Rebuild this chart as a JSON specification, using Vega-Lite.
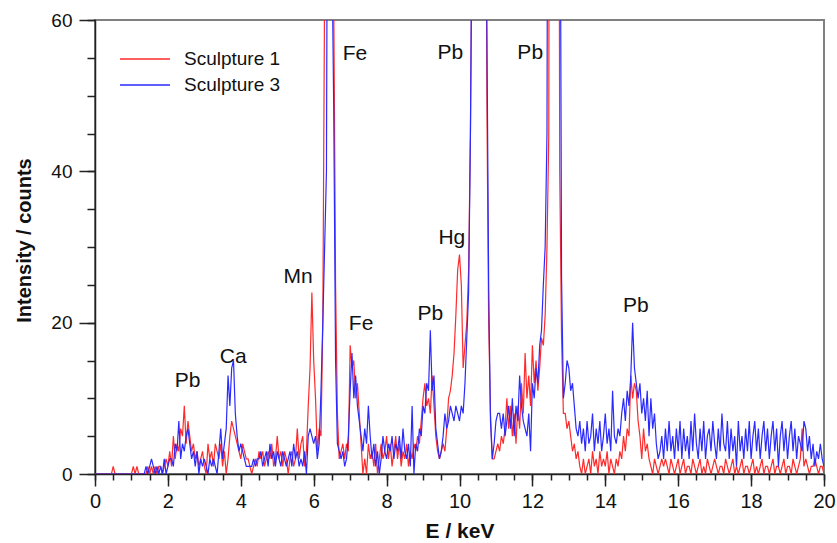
{
"$schema": "https://vega.github.io/schema/vega-lite/v6.json",
"width": 729, "height": 454,
"autosize": {"type": "none"},
"padding": {"left": 95, "top": 20, "right": 13, "bottom": 69},
"background": "white",
"config": {"view": {"stroke": "#808080", "strokeWidth": 2}, "font": "Liberation Sans"},
"data": {"values": [
{"e":0.00,"Sculpture 1":0,"Sculpture 3":0},{"e":0.05,"Sculpture 1":0,"Sculpture 3":0},{"e":0.10,"Sculpture 1":0,"Sculpture 3":0},{"e":0.15,"Sculpture 1":0,"Sculpture 3":0},{"e":0.20,"Sculpture 1":0,"Sculpture 3":0},{"e":0.25,"Sculpture 1":0,"Sculpture 3":0},{"e":0.30,"Sculpture 1":0,"Sculpture 3":0},{"e":0.35,"Sculpture 1":0,"Sculpture 3":0},{"e":0.40,"Sculpture 1":0,"Sculpture 3":0},{"e":0.45,"Sculpture 1":0,"Sculpture 3":0},
{"e":0.50,"Sculpture 1":1,"Sculpture 3":0},{"e":0.55,"Sculpture 1":0,"Sculpture 3":0},{"e":0.60,"Sculpture 1":0,"Sculpture 3":0},{"e":0.65,"Sculpture 1":0,"Sculpture 3":0},{"e":0.70,"Sculpture 1":0,"Sculpture 3":0},{"e":0.75,"Sculpture 1":0,"Sculpture 3":0},{"e":0.80,"Sculpture 1":0,"Sculpture 3":0},{"e":0.85,"Sculpture 1":0,"Sculpture 3":0},{"e":0.90,"Sculpture 1":0,"Sculpture 3":0},{"e":0.95,"Sculpture 1":0,"Sculpture 3":0},
{"e":1.00,"Sculpture 1":0,"Sculpture 3":0},{"e":1.05,"Sculpture 1":1,"Sculpture 3":0},{"e":1.10,"Sculpture 1":0,"Sculpture 3":0},{"e":1.15,"Sculpture 1":1,"Sculpture 3":0},{"e":1.20,"Sculpture 1":0,"Sculpture 3":0},{"e":1.25,"Sculpture 1":0,"Sculpture 3":0},{"e":1.30,"Sculpture 1":0,"Sculpture 3":0},{"e":1.35,"Sculpture 1":0,"Sculpture 3":0},{"e":1.40,"Sculpture 1":0,"Sculpture 3":1},{"e":1.45,"Sculpture 1":1,"Sculpture 3":0},
{"e":1.50,"Sculpture 1":0,"Sculpture 3":1},{"e":1.55,"Sculpture 1":1,"Sculpture 3":2},{"e":1.60,"Sculpture 1":0,"Sculpture 3":1},{"e":1.65,"Sculpture 1":1,"Sculpture 3":0},{"e":1.70,"Sculpture 1":0,"Sculpture 3":1},{"e":1.75,"Sculpture 1":1,"Sculpture 3":0},{"e":1.80,"Sculpture 1":1,"Sculpture 3":1},{"e":1.85,"Sculpture 1":0,"Sculpture 3":0},{"e":1.90,"Sculpture 1":1,"Sculpture 3":2},{"e":1.95,"Sculpture 1":2,"Sculpture 3":0},
{"e":2.00,"Sculpture 1":1,"Sculpture 3":1},{"e":2.05,"Sculpture 1":3,"Sculpture 3":2},{"e":2.10,"Sculpture 1":1,"Sculpture 3":2},{"e":2.15,"Sculpture 1":5,"Sculpture 3":1},{"e":2.20,"Sculpture 1":2,"Sculpture 3":4},{"e":2.25,"Sculpture 1":4,"Sculpture 3":3},{"e":2.30,"Sculpture 1":3,"Sculpture 3":7},{"e":2.35,"Sculpture 1":6,"Sculpture 3":2},{"e":2.40,"Sculpture 1":5,"Sculpture 3":4},{"e":2.45,"Sculpture 1":9,"Sculpture 3":3},
{"e":2.50,"Sculpture 1":4,"Sculpture 3":5},{"e":2.55,"Sculpture 1":7,"Sculpture 3":6},{"e":2.60,"Sculpture 1":5,"Sculpture 3":4},{"e":2.65,"Sculpture 1":3,"Sculpture 3":2},{"e":2.70,"Sculpture 1":4,"Sculpture 3":3},{"e":2.75,"Sculpture 1":2,"Sculpture 3":1},{"e":2.80,"Sculpture 1":3,"Sculpture 3":3},{"e":2.85,"Sculpture 1":1,"Sculpture 3":0},{"e":2.90,"Sculpture 1":2,"Sculpture 3":2},{"e":2.95,"Sculpture 1":3,"Sculpture 3":1},
{"e":3.00,"Sculpture 1":1,"Sculpture 3":2},{"e":3.05,"Sculpture 1":0,"Sculpture 3":1},{"e":3.10,"Sculpture 1":4,"Sculpture 3":0},{"e":3.15,"Sculpture 1":2,"Sculpture 3":2},{"e":3.20,"Sculpture 1":3,"Sculpture 3":1},{"e":3.25,"Sculpture 1":1,"Sculpture 3":2},{"e":3.30,"Sculpture 1":4,"Sculpture 3":1},{"e":3.35,"Sculpture 1":3,"Sculpture 3":0},{"e":3.40,"Sculpture 1":2,"Sculpture 3":3},{"e":3.45,"Sculpture 1":4,"Sculpture 3":6},
{"e":3.50,"Sculpture 1":1,"Sculpture 3":2},{"e":3.55,"Sculpture 1":3,"Sculpture 3":4},{"e":3.60,"Sculpture 1":0,"Sculpture 3":6},{"e":3.65,"Sculpture 1":2,"Sculpture 3":13},{"e":3.70,"Sculpture 1":5,"Sculpture 3":9},{"e":3.75,"Sculpture 1":7,"Sculpture 3":14},{"e":3.80,"Sculpture 1":6,"Sculpture 3":15},{"e":3.85,"Sculpture 1":5,"Sculpture 3":8},{"e":3.90,"Sculpture 1":4,"Sculpture 3":5},{"e":3.95,"Sculpture 1":3,"Sculpture 3":3},
{"e":4.00,"Sculpture 1":2,"Sculpture 3":4},{"e":4.05,"Sculpture 1":4,"Sculpture 3":3},{"e":4.10,"Sculpture 1":3,"Sculpture 3":2},{"e":4.15,"Sculpture 1":2,"Sculpture 3":1},{"e":4.20,"Sculpture 1":2,"Sculpture 3":1},{"e":4.25,"Sculpture 1":1,"Sculpture 3":1},{"e":4.30,"Sculpture 1":0,"Sculpture 3":1},{"e":4.35,"Sculpture 1":1,"Sculpture 3":2},{"e":4.40,"Sculpture 1":2,"Sculpture 3":1},{"e":4.45,"Sculpture 1":1,"Sculpture 3":2},
{"e":4.50,"Sculpture 1":3,"Sculpture 3":2},{"e":4.55,"Sculpture 1":2,"Sculpture 3":3},{"e":4.60,"Sculpture 1":3,"Sculpture 3":1},{"e":4.65,"Sculpture 1":1,"Sculpture 3":2},{"e":4.70,"Sculpture 1":2,"Sculpture 3":3},{"e":4.75,"Sculpture 1":3,"Sculpture 3":1},{"e":4.80,"Sculpture 1":2,"Sculpture 3":4},{"e":4.85,"Sculpture 1":4,"Sculpture 3":2},{"e":4.90,"Sculpture 1":1,"Sculpture 3":3},{"e":4.95,"Sculpture 1":2,"Sculpture 3":1},
{"e":5.00,"Sculpture 1":5,"Sculpture 3":3},{"e":5.05,"Sculpture 1":2,"Sculpture 3":2},{"e":5.10,"Sculpture 1":3,"Sculpture 3":1},{"e":5.15,"Sculpture 1":1,"Sculpture 3":3},{"e":5.20,"Sculpture 1":3,"Sculpture 3":2},{"e":5.25,"Sculpture 1":2,"Sculpture 3":1},{"e":5.30,"Sculpture 1":0,"Sculpture 3":2},{"e":5.35,"Sculpture 1":2,"Sculpture 3":3},{"e":5.40,"Sculpture 1":3,"Sculpture 3":1},{"e":5.45,"Sculpture 1":1,"Sculpture 3":4},
{"e":5.50,"Sculpture 1":2,"Sculpture 3":2},{"e":5.55,"Sculpture 1":6,"Sculpture 3":3},{"e":5.60,"Sculpture 1":2,"Sculpture 3":1},{"e":5.65,"Sculpture 1":4,"Sculpture 3":2},{"e":5.70,"Sculpture 1":5,"Sculpture 3":1},{"e":5.75,"Sculpture 1":1,"Sculpture 3":3},{"e":5.80,"Sculpture 1":3,"Sculpture 3":0},{"e":5.85,"Sculpture 1":9,"Sculpture 3":5},{"e":5.90,"Sculpture 1":14,"Sculpture 3":6},{"e":5.95,"Sculpture 1":24,"Sculpture 3":5},
{"e":6.00,"Sculpture 1":15,"Sculpture 3":4},{"e":6.05,"Sculpture 1":10,"Sculpture 3":5},{"e":6.10,"Sculpture 1":3,"Sculpture 3":2},{"e":6.15,"Sculpture 1":6,"Sculpture 3":4},{"e":6.20,"Sculpture 1":5,"Sculpture 3":11},{"e":6.25,"Sculpture 1":20,"Sculpture 3":20},{"e":6.30,"Sculpture 1":65,"Sculpture 3":30},{"e":6.35,"Sculpture 1":110,"Sculpture 3":40},{"e":6.40,"Sculpture 1":150,"Sculpture 3":120},{"e":6.45,"Sculpture 1":150,"Sculpture 3":150},
{"e":6.50,"Sculpture 1":110,"Sculpture 3":70},{"e":6.55,"Sculpture 1":62,"Sculpture 3":48},{"e":6.60,"Sculpture 1":25,"Sculpture 3":15},{"e":6.65,"Sculpture 1":8,"Sculpture 3":4},{"e":6.70,"Sculpture 1":2,"Sculpture 3":3},{"e":6.75,"Sculpture 1":3,"Sculpture 3":2},{"e":6.80,"Sculpture 1":4,"Sculpture 3":3},{"e":6.85,"Sculpture 1":2,"Sculpture 3":1},{"e":6.90,"Sculpture 1":4,"Sculpture 3":2},{"e":6.95,"Sculpture 1":3,"Sculpture 3":5},
{"e":7.00,"Sculpture 1":17,"Sculpture 3":11},{"e":7.05,"Sculpture 1":14,"Sculpture 3":16},{"e":7.10,"Sculpture 1":15,"Sculpture 3":10},{"e":7.15,"Sculpture 1":10,"Sculpture 3":13},{"e":7.20,"Sculpture 1":12,"Sculpture 3":9},{"e":7.25,"Sculpture 1":8,"Sculpture 3":7},{"e":7.30,"Sculpture 1":4,"Sculpture 3":5},{"e":7.35,"Sculpture 1":0,"Sculpture 3":3},{"e":7.40,"Sculpture 1":2,"Sculpture 3":6},{"e":7.45,"Sculpture 1":0,"Sculpture 3":4},
{"e":7.50,"Sculpture 1":4,"Sculpture 3":9},{"e":7.55,"Sculpture 1":2,"Sculpture 3":5},{"e":7.60,"Sculpture 1":3,"Sculpture 3":2},{"e":7.65,"Sculpture 1":1,"Sculpture 3":4},{"e":7.70,"Sculpture 1":4,"Sculpture 3":1},{"e":7.75,"Sculpture 1":0,"Sculpture 3":3},{"e":7.80,"Sculpture 1":2,"Sculpture 3":0},{"e":7.85,"Sculpture 1":4,"Sculpture 3":2},{"e":7.90,"Sculpture 1":2,"Sculpture 3":5},{"e":7.95,"Sculpture 1":3,"Sculpture 3":3},
{"e":8.00,"Sculpture 1":5,"Sculpture 3":2},{"e":8.05,"Sculpture 1":2,"Sculpture 3":4},{"e":8.10,"Sculpture 1":4,"Sculpture 3":3},{"e":8.15,"Sculpture 1":1,"Sculpture 3":5},{"e":8.20,"Sculpture 1":3,"Sculpture 3":2},{"e":8.25,"Sculpture 1":5,"Sculpture 3":4},{"e":8.30,"Sculpture 1":2,"Sculpture 3":3},{"e":8.35,"Sculpture 1":4,"Sculpture 3":5},{"e":8.40,"Sculpture 1":1,"Sculpture 3":2},{"e":8.45,"Sculpture 1":3,"Sculpture 3":6},
{"e":8.50,"Sculpture 1":2,"Sculpture 3":3},{"e":8.55,"Sculpture 1":4,"Sculpture 3":2},{"e":8.60,"Sculpture 1":1,"Sculpture 3":4},{"e":8.65,"Sculpture 1":3,"Sculpture 3":1},{"e":8.70,"Sculpture 1":2,"Sculpture 3":9},{"e":8.75,"Sculpture 1":4,"Sculpture 3":0},{"e":8.80,"Sculpture 1":3,"Sculpture 3":4},{"e":8.85,"Sculpture 1":5,"Sculpture 3":3},{"e":8.90,"Sculpture 1":4,"Sculpture 3":6},{"e":8.95,"Sculpture 1":7,"Sculpture 3":5},
{"e":9.00,"Sculpture 1":10,"Sculpture 3":9},{"e":9.05,"Sculpture 1":12,"Sculpture 3":8},{"e":9.10,"Sculpture 1":9,"Sculpture 3":12},{"e":9.15,"Sculpture 1":10,"Sculpture 3":11},{"e":9.20,"Sculpture 1":8,"Sculpture 3":19},{"e":9.25,"Sculpture 1":13,"Sculpture 3":11},{"e":9.30,"Sculpture 1":9,"Sculpture 3":13},{"e":9.35,"Sculpture 1":5,"Sculpture 3":6},{"e":9.40,"Sculpture 1":3,"Sculpture 3":4},{"e":9.45,"Sculpture 1":2,"Sculpture 3":2},
{"e":9.50,"Sculpture 1":3,"Sculpture 3":3},{"e":9.55,"Sculpture 1":4,"Sculpture 3":5},{"e":9.60,"Sculpture 1":3,"Sculpture 3":8},{"e":9.65,"Sculpture 1":6,"Sculpture 3":6},{"e":9.70,"Sculpture 1":10,"Sculpture 3":7},{"e":9.75,"Sculpture 1":11,"Sculpture 3":9},{"e":9.80,"Sculpture 1":13,"Sculpture 3":8},{"e":9.85,"Sculpture 1":16,"Sculpture 3":7},{"e":9.90,"Sculpture 1":21,"Sculpture 3":9},{"e":9.95,"Sculpture 1":27,"Sculpture 3":8},
{"e":10.00,"Sculpture 1":29,"Sculpture 3":7},{"e":10.05,"Sculpture 1":25,"Sculpture 3":9},{"e":10.10,"Sculpture 1":14,"Sculpture 3":8},{"e":10.15,"Sculpture 1":17,"Sculpture 3":12},{"e":10.20,"Sculpture 1":20,"Sculpture 3":18},{"e":10.25,"Sculpture 1":27,"Sculpture 3":24},{"e":10.30,"Sculpture 1":45,"Sculpture 3":45},{"e":10.35,"Sculpture 1":75,"Sculpture 3":80},{"e":10.40,"Sculpture 1":150,"Sculpture 3":150},{"e":10.45,"Sculpture 1":300,"Sculpture 3":300},
{"e":10.50,"Sculpture 1":400,"Sculpture 3":400},{"e":10.55,"Sculpture 1":420,"Sculpture 3":420},{"e":10.60,"Sculpture 1":380,"Sculpture 3":380},{"e":10.65,"Sculpture 1":250,"Sculpture 3":250},{"e":10.70,"Sculpture 1":120,"Sculpture 3":130},{"e":10.75,"Sculpture 1":50,"Sculpture 3":60},{"e":10.80,"Sculpture 1":20,"Sculpture 3":25},{"e":10.85,"Sculpture 1":8,"Sculpture 3":7},{"e":10.90,"Sculpture 1":2,"Sculpture 3":2},{"e":10.95,"Sculpture 1":2,"Sculpture 3":4},
{"e":11.00,"Sculpture 1":3,"Sculpture 3":7},{"e":11.05,"Sculpture 1":4,"Sculpture 3":8},{"e":11.10,"Sculpture 1":3,"Sculpture 3":8},{"e":11.15,"Sculpture 1":5,"Sculpture 3":6},{"e":11.20,"Sculpture 1":4,"Sculpture 3":8},{"e":11.25,"Sculpture 1":6,"Sculpture 3":5},{"e":11.30,"Sculpture 1":10,"Sculpture 3":7},{"e":11.35,"Sculpture 1":6,"Sculpture 3":9},{"e":11.40,"Sculpture 1":9,"Sculpture 3":6},{"e":11.45,"Sculpture 1":5,"Sculpture 3":10},
{"e":11.50,"Sculpture 1":8,"Sculpture 3":5},{"e":11.55,"Sculpture 1":4,"Sculpture 3":9},{"e":11.60,"Sculpture 1":9,"Sculpture 3":7},{"e":11.65,"Sculpture 1":6,"Sculpture 3":13},{"e":11.70,"Sculpture 1":12,"Sculpture 3":9},{"e":11.75,"Sculpture 1":8,"Sculpture 3":7},{"e":11.80,"Sculpture 1":16,"Sculpture 3":6},{"e":11.85,"Sculpture 1":10,"Sculpture 3":5},{"e":11.90,"Sculpture 1":13,"Sculpture 3":8},{"e":11.95,"Sculpture 1":9,"Sculpture 3":3},
{"e":12.00,"Sculpture 1":17,"Sculpture 3":12},{"e":12.05,"Sculpture 1":12,"Sculpture 3":10},{"e":12.10,"Sculpture 1":15,"Sculpture 3":14},{"e":12.15,"Sculpture 1":11,"Sculpture 3":12},{"e":12.20,"Sculpture 1":14,"Sculpture 3":17},{"e":12.25,"Sculpture 1":18,"Sculpture 3":19},{"e":12.30,"Sculpture 1":17,"Sculpture 3":25},{"e":12.35,"Sculpture 1":21,"Sculpture 3":30},{"e":12.40,"Sculpture 1":30,"Sculpture 3":45},{"e":12.45,"Sculpture 1":45,"Sculpture 3":150},
{"e":12.50,"Sculpture 1":250,"Sculpture 3":300},{"e":12.55,"Sculpture 1":400,"Sculpture 3":420},{"e":12.60,"Sculpture 1":420,"Sculpture 3":420},{"e":12.65,"Sculpture 1":350,"Sculpture 3":380},{"e":12.70,"Sculpture 1":150,"Sculpture 3":200},{"e":12.75,"Sculpture 1":40,"Sculpture 3":100},{"e":12.80,"Sculpture 1":18,"Sculpture 3":26},{"e":12.85,"Sculpture 1":8,"Sculpture 3":10},{"e":12.90,"Sculpture 1":8,"Sculpture 3":12},{"e":12.95,"Sculpture 1":6,"Sculpture 3":15},
{"e":13.00,"Sculpture 1":7,"Sculpture 3":14},{"e":13.05,"Sculpture 1":5,"Sculpture 3":11},{"e":13.10,"Sculpture 1":3,"Sculpture 3":12},{"e":13.15,"Sculpture 1":4,"Sculpture 3":9},{"e":13.20,"Sculpture 1":2,"Sculpture 3":6},{"e":13.25,"Sculpture 1":3,"Sculpture 3":5},{"e":13.30,"Sculpture 1":1,"Sculpture 3":7},{"e":13.35,"Sculpture 1":0,"Sculpture 3":4},{"e":13.40,"Sculpture 1":2,"Sculpture 3":6},{"e":13.45,"Sculpture 1":0,"Sculpture 3":3},
{"e":13.50,"Sculpture 1":1,"Sculpture 3":7},{"e":13.55,"Sculpture 1":2,"Sculpture 3":4},{"e":13.60,"Sculpture 1":0,"Sculpture 3":5},{"e":13.65,"Sculpture 1":3,"Sculpture 3":8},{"e":13.70,"Sculpture 1":1,"Sculpture 3":3},{"e":13.75,"Sculpture 1":2,"Sculpture 3":6},{"e":13.80,"Sculpture 1":0,"Sculpture 3":4},{"e":13.85,"Sculpture 1":3,"Sculpture 3":7},{"e":13.90,"Sculpture 1":1,"Sculpture 3":3},{"e":13.95,"Sculpture 1":2,"Sculpture 3":5},
{"e":14.00,"Sculpture 1":1,"Sculpture 3":8},{"e":14.05,"Sculpture 1":3,"Sculpture 3":4},{"e":14.10,"Sculpture 1":0,"Sculpture 3":6},{"e":14.15,"Sculpture 1":2,"Sculpture 3":3},{"e":14.20,"Sculpture 1":1,"Sculpture 3":11},{"e":14.25,"Sculpture 1":0,"Sculpture 3":5},{"e":14.30,"Sculpture 1":2,"Sculpture 3":4},{"e":14.35,"Sculpture 1":1,"Sculpture 3":6},{"e":14.40,"Sculpture 1":3,"Sculpture 3":5},{"e":14.45,"Sculpture 1":2,"Sculpture 3":8},
{"e":14.50,"Sculpture 1":5,"Sculpture 3":10},{"e":14.55,"Sculpture 1":3,"Sculpture 3":7},{"e":14.60,"Sculpture 1":6,"Sculpture 3":11},{"e":14.65,"Sculpture 1":5,"Sculpture 3":9},{"e":14.70,"Sculpture 1":13,"Sculpture 3":13},{"e":14.75,"Sculpture 1":10,"Sculpture 3":20},{"e":14.80,"Sculpture 1":12,"Sculpture 3":14},{"e":14.85,"Sculpture 1":11,"Sculpture 3":12},{"e":14.90,"Sculpture 1":7,"Sculpture 3":10},{"e":14.95,"Sculpture 1":5,"Sculpture 3":12},
{"e":15.00,"Sculpture 1":2,"Sculpture 3":8},{"e":15.05,"Sculpture 1":6,"Sculpture 3":10},{"e":15.10,"Sculpture 1":3,"Sculpture 3":7},{"e":15.15,"Sculpture 1":4,"Sculpture 3":11},{"e":15.20,"Sculpture 1":2,"Sculpture 3":5},{"e":15.25,"Sculpture 1":1,"Sculpture 3":10},{"e":15.30,"Sculpture 1":0,"Sculpture 3":6},{"e":15.35,"Sculpture 1":2,"Sculpture 3":8},{"e":15.40,"Sculpture 1":1,"Sculpture 3":4},{"e":15.45,"Sculpture 1":0,"Sculpture 3":2},
{"e":15.50,"Sculpture 1":1,"Sculpture 3":3},{"e":15.55,"Sculpture 1":2,"Sculpture 3":5},{"e":15.60,"Sculpture 1":1,"Sculpture 3":2},{"e":15.65,"Sculpture 1":2,"Sculpture 3":6},{"e":15.70,"Sculpture 1":1,"Sculpture 3":3},{"e":15.75,"Sculpture 1":0,"Sculpture 3":7},{"e":15.80,"Sculpture 1":2,"Sculpture 3":3},{"e":15.85,"Sculpture 1":1,"Sculpture 3":5},{"e":15.90,"Sculpture 1":0,"Sculpture 3":2},{"e":15.95,"Sculpture 1":1,"Sculpture 3":6},
{"e":16.00,"Sculpture 1":2,"Sculpture 3":3},{"e":16.05,"Sculpture 1":0,"Sculpture 3":7},{"e":16.10,"Sculpture 1":1,"Sculpture 3":2},{"e":16.15,"Sculpture 1":2,"Sculpture 3":6},{"e":16.20,"Sculpture 1":0,"Sculpture 3":3},{"e":16.25,"Sculpture 1":1,"Sculpture 3":5},{"e":16.30,"Sculpture 1":1,"Sculpture 3":2},{"e":16.35,"Sculpture 1":0,"Sculpture 3":7},{"e":16.40,"Sculpture 1":2,"Sculpture 3":3},{"e":16.45,"Sculpture 1":1,"Sculpture 3":8},
{"e":16.50,"Sculpture 1":0,"Sculpture 3":4},{"e":16.55,"Sculpture 1":1,"Sculpture 3":2},{"e":16.60,"Sculpture 1":2,"Sculpture 3":6},{"e":16.65,"Sculpture 1":0,"Sculpture 3":3},{"e":16.70,"Sculpture 1":1,"Sculpture 3":7},{"e":16.75,"Sculpture 1":0,"Sculpture 3":2},{"e":16.80,"Sculpture 1":2,"Sculpture 3":5},{"e":16.85,"Sculpture 1":1,"Sculpture 3":6},{"e":16.90,"Sculpture 1":0,"Sculpture 3":3},{"e":16.95,"Sculpture 1":1,"Sculpture 3":7},
{"e":17.00,"Sculpture 1":2,"Sculpture 3":4},{"e":17.05,"Sculpture 1":1,"Sculpture 3":2},{"e":17.10,"Sculpture 1":0,"Sculpture 3":6},{"e":17.15,"Sculpture 1":1,"Sculpture 3":3},{"e":17.20,"Sculpture 1":1,"Sculpture 3":8},{"e":17.25,"Sculpture 1":0,"Sculpture 3":4},{"e":17.30,"Sculpture 1":2,"Sculpture 3":3},{"e":17.35,"Sculpture 1":1,"Sculpture 3":7},{"e":17.40,"Sculpture 1":0,"Sculpture 3":2},{"e":17.45,"Sculpture 1":1,"Sculpture 3":6},
{"e":17.50,"Sculpture 1":2,"Sculpture 3":3},{"e":17.55,"Sculpture 1":0,"Sculpture 3":5},{"e":17.60,"Sculpture 1":1,"Sculpture 3":1},{"e":17.65,"Sculpture 1":0,"Sculpture 3":7},{"e":17.70,"Sculpture 1":1,"Sculpture 3":3},{"e":17.75,"Sculpture 1":2,"Sculpture 3":5},{"e":17.80,"Sculpture 1":0,"Sculpture 3":2},{"e":17.85,"Sculpture 1":1,"Sculpture 3":6},{"e":17.90,"Sculpture 1":1,"Sculpture 3":3},{"e":17.95,"Sculpture 1":0,"Sculpture 3":7},
{"e":18.00,"Sculpture 1":1,"Sculpture 3":2},{"e":18.05,"Sculpture 1":2,"Sculpture 3":5},{"e":18.10,"Sculpture 1":0,"Sculpture 3":7},{"e":18.15,"Sculpture 1":1,"Sculpture 3":3},{"e":18.20,"Sculpture 1":0,"Sculpture 3":6},{"e":18.25,"Sculpture 1":1,"Sculpture 3":2},{"e":18.30,"Sculpture 1":2,"Sculpture 3":5},{"e":18.35,"Sculpture 1":0,"Sculpture 3":7},{"e":18.40,"Sculpture 1":1,"Sculpture 3":3},{"e":18.45,"Sculpture 1":1,"Sculpture 3":6},
{"e":18.50,"Sculpture 1":0,"Sculpture 3":2},{"e":18.55,"Sculpture 1":1,"Sculpture 3":5},{"e":18.60,"Sculpture 1":2,"Sculpture 3":7},{"e":18.65,"Sculpture 1":0,"Sculpture 3":3},{"e":18.70,"Sculpture 1":1,"Sculpture 3":6},{"e":18.75,"Sculpture 1":1,"Sculpture 3":1},{"e":18.80,"Sculpture 1":0,"Sculpture 3":5},{"e":18.85,"Sculpture 1":1,"Sculpture 3":7},{"e":18.90,"Sculpture 1":2,"Sculpture 3":3},{"e":18.95,"Sculpture 1":0,"Sculpture 3":6},
{"e":19.00,"Sculpture 1":1,"Sculpture 3":2},{"e":19.05,"Sculpture 1":1,"Sculpture 3":5},{"e":19.10,"Sculpture 1":0,"Sculpture 3":7},{"e":19.15,"Sculpture 1":2,"Sculpture 3":3},{"e":19.20,"Sculpture 1":1,"Sculpture 3":6},{"e":19.25,"Sculpture 1":0,"Sculpture 3":2},{"e":19.30,"Sculpture 1":1,"Sculpture 3":5},{"e":19.35,"Sculpture 1":2,"Sculpture 3":4},{"e":19.40,"Sculpture 1":6,"Sculpture 3":3},{"e":19.45,"Sculpture 1":1,"Sculpture 3":7},
{"e":19.50,"Sculpture 1":2,"Sculpture 3":6},{"e":19.55,"Sculpture 1":1,"Sculpture 3":3},{"e":19.60,"Sculpture 1":0,"Sculpture 3":5},{"e":19.65,"Sculpture 1":1,"Sculpture 3":2},{"e":19.70,"Sculpture 1":1,"Sculpture 3":4},{"e":19.75,"Sculpture 1":2,"Sculpture 3":1},{"e":19.80,"Sculpture 1":1,"Sculpture 3":3},{"e":19.85,"Sculpture 1":0,"Sculpture 3":2},{"e":19.90,"Sculpture 1":1,"Sculpture 3":4},{"e":19.95,"Sculpture 1":1,"Sculpture 3":2},
{"e":20.00,"Sculpture 1":0,"Sculpture 3":1}
]},
"transform": [{"fold": ["Sculpture 1", "Sculpture 3"], "as": ["series", "counts"]}],
"layer": [
 {
  "mark": {"type": "point", "opacity": 0},
  "encoding": {
   "x": {"field": "e", "type": "quantitative", "scale": {"domain": [0, 20], "nice": false, "zero": false},
     "axis": {"orient": "bottom", "values": [0,0.5,1,1.5,2,2.5,3,3.5,4,4.5,5,5.5,6,6.5,7,7.5,8,8.5,9,9.5,10,10.5,11,11.5,12,12.5,13,13.5,14,14.5,15,15.5,16,16.5,17,17.5,18,18.5,19,19.5,20], "labels": false, "domain": false, "grid": false, "title": null, "tickSize": 6, "tickColor": "#222", "tickWidth": 1.5}},
   "y": {"field": "counts", "type": "quantitative", "scale": {"domain": [0, 60], "nice": false},
     "axis": {"orient": "left", "values": [0,5,10,15,20,25,30,35,40,45,50,55,60], "labels": false, "domain": false, "grid": false, "title": null, "tickSize": 8, "tickColor": "#222", "tickWidth": 1.5}}
  }
 },
 {
  "mark": {"type": "line", "clip": true, "strokeWidth": 1.2},
  "encoding": {
   "x": {"field": "e", "type": "quantitative", "scale": {"domain": [0, 20], "nice": false, "zero": false},
     "axis": {"orient": "bottom", "values": [0,2,4,6,8,10,12,14,16,18,20], "tickSize": 12, "tickColor": "#222", "tickWidth": 1.5, "domainColor": "#222", "domainWidth": 1.5, "grid": false, "labelFontSize": 20, "labelColor": "#111", "labelPadding": 5, "labelFlush": false, "title": "E / keV", "titleFontSize": 21, "titleFontWeight": "bold", "titleColor": "#111", "titleBaseline": "alphabetic", "titleY": 63}},
   "y": {"field": "counts", "type": "quantitative", "scale": {"domain": [0, 60], "nice": false},
     "axis": {"orient": "left", "values": [0,20,40,60], "tickSize": 16, "tickColor": "#222", "tickWidth": 1.5, "domainColor": "#222", "domainWidth": 1.5, "grid": false, "labelFontSize": 19, "labelColor": "#111", "labelPadding": 7, "labelFlush": false, "title": "Intensity / counts", "titleFontSize": 20, "titleFontWeight": "bold", "titleColor": "#111", "titleBaseline": "alphabetic", "titleX": -65, "titleY": 220}},
   "color": {"field": "series", "type": "nominal", "scale": {"domain": ["Sculpture 1", "Sculpture 3"], "range": ["#ff2a2a", "#2a2aff"]},
     "legend": {"orient": "none", "legendX": 24, "legendY": 26, "title": null, "symbolType": "stroke", "symbolSize": 2500, "symbolStrokeWidth": 1.5, "labelFontSize": 19, "labelOffset": 13, "labelColor": "#111", "padding": 0, "rowPadding": 0, "clipHeight": 26}}
  }
 },
 {
  "data": {"values": [
   {"label": "Pb", "e": 2.54, "counts": 12.3},
   {"label": "Ca", "e": 3.79, "counts": 15.4},
   {"label": "Mn", "e": 5.57, "counts": 26.0},
   {"label": "Fe", "e": 7.13, "counts": 55.5},
   {"label": "Fe", "e": 7.30, "counts": 19.8},
   {"label": "Pb", "e": 9.20, "counts": 21.1},
   {"label": "Hg", "e": 9.79, "counts": 31.2},
   {"label": "Pb", "e": 9.75, "counts": 55.6},
   {"label": "Pb", "e": 11.94, "counts": 55.6},
   {"label": "Pb", "e": 14.84, "counts": 22.2}
  ]},
  "transform": [],
  "mark": {"type": "text", "fontSize": 21, "align": "center", "baseline": "middle", "color": "#111"},
  "encoding": {
   "x": {"field": "e", "type": "quantitative", "axis": null},
   "y": {"field": "counts", "type": "quantitative", "axis": null},
   "text": {"field": "label", "type": "nominal"}
  }
 }
],
"resolve": {"axis": {"x": "independent", "y": "independent"}}
}
